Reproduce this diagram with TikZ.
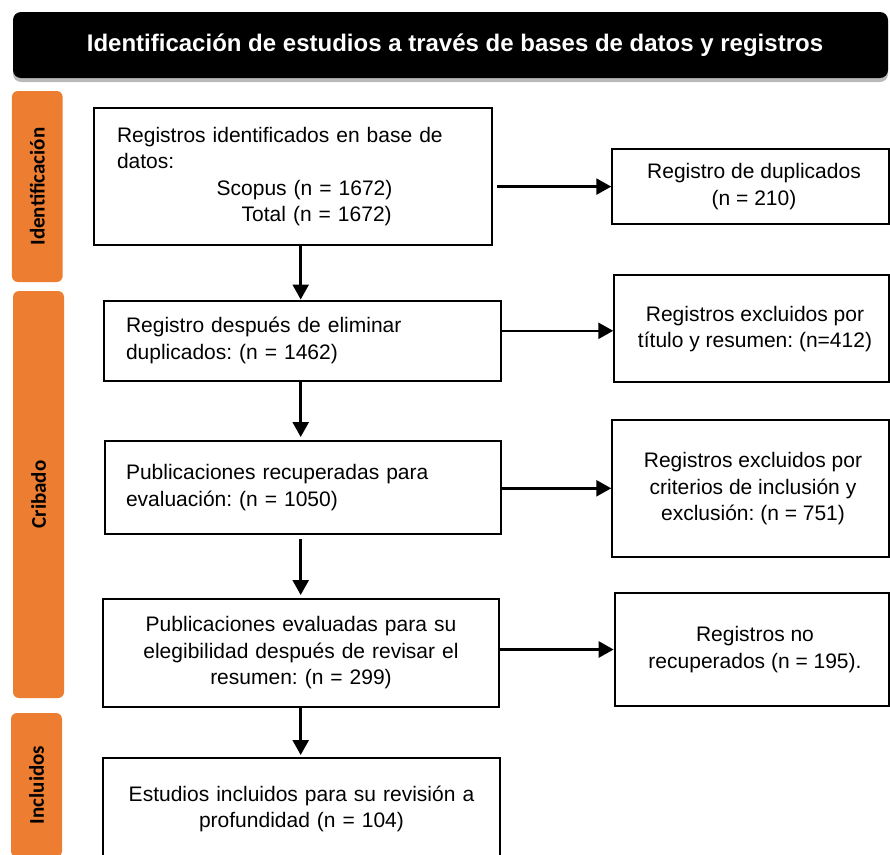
\documentclass[tikz,border=0pt]{standalone}
\usepackage{fontspec}
\setmainfont{Liberation Sans}
\newfontfamily\sidefont{Carlito}
\usetikzlibrary{arrows.meta,shadows}
\definecolor{prismaorange}{HTML}{ED7D31}
\frenchspacing
\begin{document}
\frenchspacing
\begin{tikzpicture}[x=1pt,y=-1pt,
  box/.style={draw=black, line width=2pt, fill=white, inner ysep=0pt,
    font=\frenchspacing\fontsize{21}{26.5}\selectfont},
  lbox/.style={box, align=left},
  cbox/.style={box, align=center},
  emptybox/.style={draw=black, line width=2pt, fill=white, inner sep=0pt},
  rtext/.style={align=center, inner sep=0pt, font=\frenchspacing\fontsize{21}{26.5}\selectfont},
  sidebar/.style={fill=prismaorange, rounded corners=6pt, inner sep=0pt,
    font=\sidefont\bfseries\fontsize{21}{24}\selectfont},
  arr/.style={line width=2.6pt, -{Triangle[length=15pt,width=16pt]}}
]
\useasboundingbox (0,0) rectangle (890,854);

% header
\node[fill=black, rounded corners=8pt, minimum width=875pt, minimum height=66pt,
  inner sep=0pt, drop shadow={shadow xshift=0pt, shadow yshift=-4pt, opacity=0.45, fill=black!60},
  text=white, font=\bfseries\fontsize{24}{28}\selectfont] (hdr) at (450.5,45)
  {\hspace*{9pt}Identificación de estudios a través de bases de datos y registros};

% side bars
\node[sidebar, minimum width=50.7pt, minimum height=191pt] (sid) at (37.3,186.5)
  {\rotatebox{90}{Identificación}};
\node[sidebar, minimum width=51pt, minimum height=407pt] (scr) at (38.5,494.5)
  {\rotatebox{90}{Cribado}};
\node[sidebar, minimum width=51pt, minimum height=144pt] (sin) at (36.5,785)
  {\rotatebox{90}{Incluidos}};

% main boxes
\node[lbox, minimum width=398pt, minimum height=137pt, inner xsep=23pt, text width=352pt]
  (b1) at (293,176.5)
  {Registros identificados en base de\\
   datos:\\
   \hspace*{99.7pt}Scopus (n = 1672)\\
   \hspace*{124.7pt}Total (n = 1672)};
\node[lbox, minimum width=397pt, minimum height=80pt, inner xsep=22pt, text width=353pt]
  (b2) at (302.5,340.5)
  {Registro después de eliminar\\duplicados: (n = 1462)};
\node[lbox, minimum width=396pt, minimum height=93pt, inner xsep=21pt, text width=354pt]
  (b3) at (303,487.5)
  {Publicaciones recuperadas para\\evaluación: (n = 1050)};
\node[cbox, minimum width=396pt, minimum height=108pt, inner xsep=18pt, text width=360pt]
  (b4) at (301,653)
  {Publicaciones evaluadas para su\\elegibilidad después de revisar el\\resumen: (n = 299)};
\node[cbox, minimum width=397pt, minimum height=102pt, inner xsep=18pt, text width=361pt]
  (b5) at (301.5,809)
  {Estudios incluidos para su revisión a\\profundidad (n = 104)};

% right boxes
\node[emptybox, minimum width=276.7pt, minimum height=74.7pt] (r1) at (750.6,186.6) {};
\node[rtext] (r1t) at (754,186.6) {Registro de duplicados\\(n = 210)};
\node[emptybox, minimum width=274.7pt, minimum height=106.7pt] (r2) at (751.6,328.3) {};
\node[rtext] (r2t) at (755,329) {Registros excluidos por\\título y resumen: (n=412)};
\node[emptybox, minimum width=276.7pt, minimum height=136.7pt] (r3) at (750.6,488.3) {};
\node[rtext] (r3t) at (753,488.7) {Registros excluidos por\\criterios de inclusión y\\exclusión: (n = 751)};
\node[emptybox, minimum width=274.3pt, minimum height=112.4pt] (r4) at (751.8,649.5) {};
\node[rtext] (r4t) at (755,649.5) {Registros no\\recuperados (n = 195).};

% vertical guide
\coordinate (vx) at (300.7,0);

% vertical arrows
\draw[arr] (b1.south -| vx) -- (b2.north -| vx);
\draw[arr, shorten >=3pt] (b2.south -| vx) -- (b3.north -| vx);
\draw[arr, shorten <=4pt, shorten >=3pt] (b3.south -| vx) -- (b4.north -| vx);
\draw[arr, shorten >=2pt] (b4.south -| vx) -- (b5.north -| vx);

% horizontal arrows
\draw[arr, shorten <=4pt] (b1.east |- r1.west) -- (r1.west);
\draw[arr] ([yshift=-2.5pt]b2.east |- r2.west) -- ([yshift=-2.5pt]r2.west);
\draw[arr] (b3.east |- r3.west) -- (r3.west);
\draw[arr] (b4.east |- r4.west) -- (r4.west);
\end{tikzpicture}
\end{document}
